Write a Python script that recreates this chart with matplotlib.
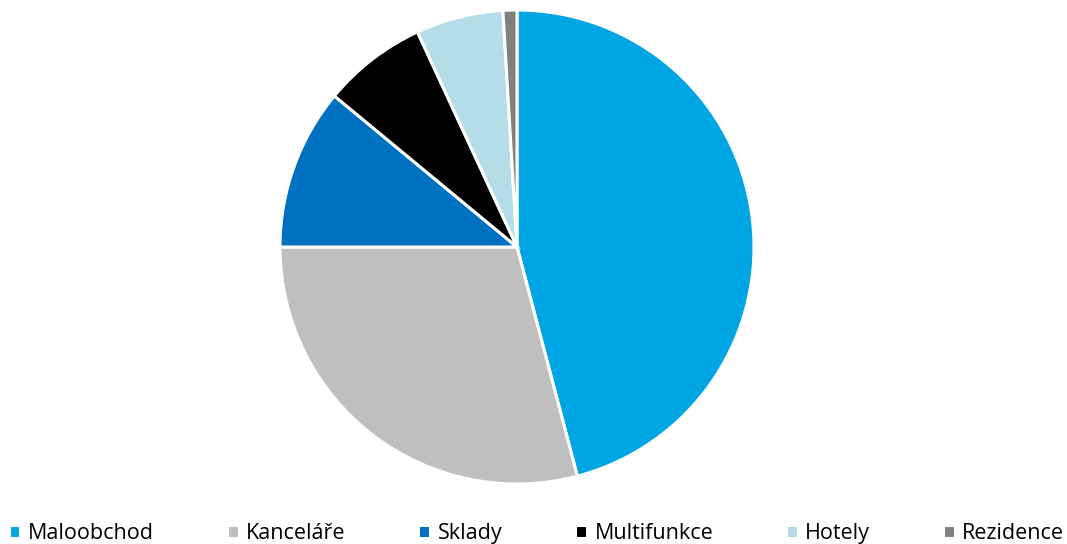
import matplotlib.pyplot as plt

plt.rcParams['font.family'] = ['Open Sans', 'DejaVu Sans']

categories = ['Maloobchod', 'Kanceláře', 'Sklady', 'Multifunkce', 'Hotely', 'Rezidence']
shares = [45.9, 29.1, 11.0, 7.1, 5.95, 0.95]
colors = ['#00A6E3', '#BFBFBF', '#0070C0', '#000000', '#B5DDE8', '#808080']

fig = plt.figure(figsize=(10.67, 5.44), dpi=100)
cx, cy, r = 517 / 1067, 297 / 544, 237
ax = fig.add_axes([cx - r / 1067, cy - r / 544, 2 * r / 1067, 2 * r / 544])

wedges, _ = ax.pie(shares, colors=colors, startangle=90, counterclock=False,
                   wedgeprops={'edgecolor': 'white', 'linewidth': 2.2})
ax.set_xlim(-1, 1)
ax.set_ylim(-1, 1)
ax.set_aspect('equal')
ax.axis('off')

fig.legend(wedges, categories, loc='lower left', bbox_to_anchor=(0.008, 0.0),
           ncol=6, frameon=False, fontsize=15.5, handlelength=0.55, handleheight=0.55,
           handletextpad=0.35, columnspacing=3.38, borderaxespad=0, borderpad=0)

fig.savefig('out.png', dpi=100)
